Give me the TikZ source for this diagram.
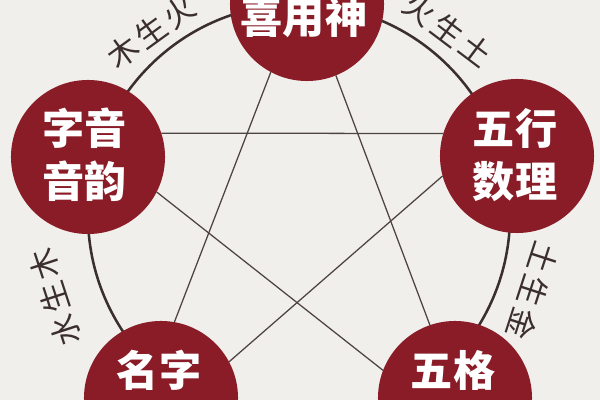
\documentclass[tikz,border=0pt]{standalone}
\usepackage{fontspec}
\newfontfamily\cjk{Noto Sans CJK SC}
\newfontfamily\cjkfino[LetterSpace=12]{Noto Sans CJK SC}
\definecolor{fondo}{HTML}{F1EFEB}
\definecolor{vino}{HTML}{8A1C28}
\definecolor{trazo}{HTML}{3A2E2E}

\begin{document}
\begin{tikzpicture}[x=0.025cm, y=-0.025cm,
        bola/.style={circle, fill=vino, minimum size=3.85cm, inner sep=0pt, outer sep=0pt},
        letrero/.style={text=white, font=\cjk\bfseries\fontsize{30}{38}\selectfont, align=center, inner sep=0pt},
        linea/.style={draw=trazo!90, line width=0.9pt},
        etiqueta/.style={text=trazo, font=\cjkfino\fontsize{22}{22}\selectfont, inner sep=0pt}]
        \useasboundingbox (0,0) rectangle (600,400);
        \fill[fondo] (0,0) rectangle (600,400);
        \clip (0,0) rectangle (600,400);

        % Anillo
        \draw[trazo, line width=1.8pt] (299,215) circle[radius=5.275cm];

        % Circulos
        \node[bola] (xys) at (307,4) {};
        \node[bola] (zy) at (88,157) {};
        \node[bola] (wx) at (517,156) {};
        \node[bola] (mz) at (161,398) {};
        \node[bola] (wg) at (455,398) {};

        % Textos
        \node[letrero] (t-xys) at (304,18) {喜用神};
        \node[letrero] (t-zy) at (85,155) {字音\\音韵};
        \node[letrero] (t-wx) at (515,155) {五行\\数理};
        \node[letrero] (t-mz) at (159,370) {名字};
        \node[letrero] (t-wg) at (453,370) {五格};

        % Estrella
        \foreach \a/\b in {
            zy.18/wx.163,
            xys.242/mz.80,
            xys.292/wg.109,
            zy.-27/wg.159,
            wx.195/mz.28
            } {
            \draw[linea] (\a) -- (\b);
        }

        % Etiquetas
        \foreach \n/\px/\py/\ang/\txt in {
            1/151/32/36/木生火,
            2/448/30/-37/火生土,
            3/55/297/108/水生木,
            4/533/291/-108/土生金
            } {
            \node[etiqueta, rotate=\ang] (e-\n) at (\px,\py) {\txt};
        }
    \end{tikzpicture}
\end{document}
